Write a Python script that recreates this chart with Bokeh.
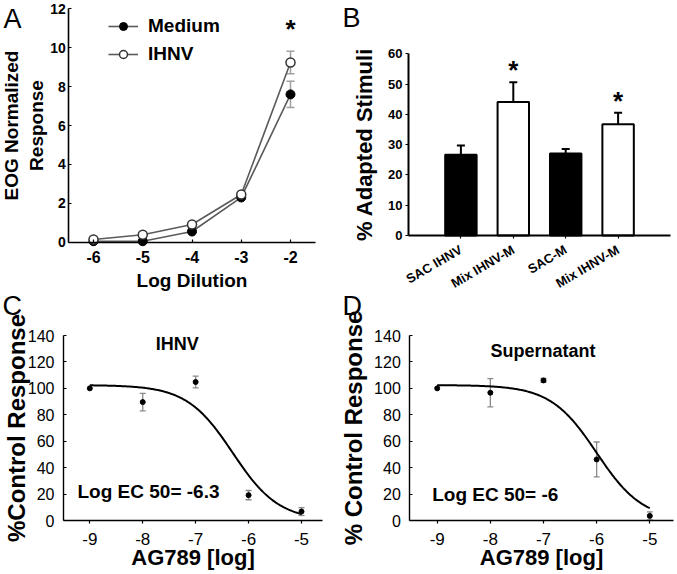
from math import pi
import numpy as np
from bokeh.plotting import figure
from bokeh.layouts import row, column
from bokeh.models import (ColumnDataSource, Whisker, TeeHead, Label, Legend,
                          LegendItem, FixedTicker, Range1d)
from bokeh.core.properties import value
from bokeh.embed import file_html
from bokeh.resources import INLINE

FONT = "Liberation Sans"

# ---------------- data ----------------
# Panel A
log_dilution = [-6, -5, -4, -3, -2]
medium_resp = [0.05, 0.05, 0.55, 2.3, 7.6]
medium_err = [0.0, 0.0, 0.0, 0.0, 0.67]
ihnv_resp = [0.14, 0.38, 0.91, 2.45, 9.24]
ihnv_err = [0.0, 0.0, 0.0, 0.0, 0.58]
a_yticks = [0, 2, 4, 6, 8, 10, 12]

# Panel B
b_labels = ["SAC IHNV", "Mix IHNV-M", "SAC-M", "Mix IHNV-M"]
b_values = [26.7, 44.1, 27.1, 36.7]
b_err = [3.0, 6.5, 1.5, 3.8]
b_fill = ["black", "white", "black", "white"]
b_significant = [False, True, False, True]
b_yticks = [0, 10, 20, 30, 40, 50, 60]

# Panels C and D
ag789_log = [-9, -8, -7, -6, -5]
c_resp = [100.0, 89.6, 104.8, 19.2, 6.8]
c_err = [0.0, 6.6, 4.5, 3.5, 3.0]
d_resp = [100.0, 96.7, 106.0, 46.2, 3.5]
d_err = [0.0, 10.7, 1.5, 13.2, 3.0]
c_top, c_bottom, c_log_ec50, c_hill = 102.5, 0.0, -6.3, 1.0
d_top, d_bottom, d_log_ec50, d_hill = 102.5, 0.0, -6.0, 1.0
cd_yticks = [0, 20, 40, 60, 80, 100, 120, 140]

# ---------------- geometry (page pixels) ----------------
PA = dict(ox=0, oy=0, w=340, h=291, xa=((93.0, -6), (290.0, -2)), ya=((241.7, 0), (8.3, 12)))
PB = dict(ox=340, oy=0, w=337, h=291, xa=((460.4, 1), (617.6, 4)), ya=((235.0, 0), (53.3, 60)))
PC = dict(ox=0, oy=291, w=340, h=283, xa=((89.3, -9), (301.0, -5)), ya=((520.0, 0), (335.0, 140)))
PD = dict(ox=340, oy=291, w=337, h=283, xa=((436.7, -9), (649.3, -5)), ya=((520.0, 0), (335.0, 140)))


def px2x(P, px):
    (pa, va), (pb, vb) = P["xa"]
    return va + (px - pa) * (vb - va) / (pb - pa)


def py2y(P, py):
    (qa, ua), (qb, ub) = P["ya"]
    return ua + (py - qa) * (ub - ua) / (qb - qa)


def make_fig(P, yaxis_px, xaxis_end_px, ybounds):
    x0, x1 = px2x(P, P["ox"]), px2x(P, P["ox"] + P["w"])
    y0, y1 = py2y(P, P["oy"] + P["h"]), py2y(P, P["oy"])
    p = figure(width=P["w"], height=P["h"], x_range=Range1d(x0, x1), y_range=Range1d(y0, y1),
               output_backend="svg", toolbar_location=None, tools="",
               min_border_left=0, min_border_right=0, min_border_top=0, min_border_bottom=0)
    p.outline_line_color = None
    p.xgrid.visible = False
    p.ygrid.visible = False
    p.background_fill_color = "white"
    p.border_fill_color = "white"
    yloc = px2x(P, yaxis_px)
    p.yaxis.fixed_location = yloc
    p.xaxis.fixed_location = 0
    p.xaxis.bounds = (yloc, px2x(P, xaxis_end_px))
    p.yaxis.bounds = ybounds
    for ax in (p.xaxis[0], p.yaxis[0]):
        ax.axis_line_color = "black"
        ax.axis_line_width = 1.6
        ax.major_tick_line_color = "black"
        ax.major_tick_line_width = 1.2
        ax.minor_tick_line_color = None
        ax.major_label_text_font = FONT
        ax.major_label_text_color = "black"
        ax.axis_label_text_font = FONT
        ax.axis_label_text_font_style = "bold"
        ax.axis_label_text_color = "black"
    return p


def slabel(p, P, rx, ry, text, size, style="bold", angle=0, align="center"):
    p.add_layout(Label(x=rx - P["ox"], y=P["oy"] + P["h"] - ry,
                       x_units="screen", y_units="screen", text=text,
                       text_font=FONT, text_font_size=f"{size}px", text_font_style=style,
                       text_color="black", angle=angle, text_align=align,
                       text_baseline="middle"))


def dlabel(p, x, y, text, size, align="center", y_offset=0):
    p.add_layout(Label(x=x, y=y, y_offset=y_offset, text=text, text_font=FONT,
                       text_font_size=f"{size}px", text_font_style="bold",
                       text_color="black", text_align=align, text_baseline="middle"))


def add_whiskers(p, xs, ys, errs, color, width, cap, lower=True):
    pts = [(x, y, e) for x, y, e in zip(xs, ys, errs) if e > 0]
    src = ColumnDataSource(dict(x=[q[0] for q in pts],
                                lo=[q[1] - q[2] if lower else q[1] for q in pts],
                                hi=[q[1] + q[2] for q in pts]))
    w = Whisker(source=src, base="x", lower="lo", upper="hi",
                line_color=color, line_width=width,
                upper_head=TeeHead(size=cap, line_color=color, line_width=width),
                lower_head=TeeHead(size=cap, line_color=color, line_width=width) if lower else None)
    p.add_layout(w)


# ---------------- Panel A ----------------
pA = make_fig(PA, 68.4, 315, (0, 12))
pA.xaxis.ticker = FixedTicker(ticks=log_dilution)
pA.xaxis.major_label_overrides = {t: str(t) for t in log_dilution}
pA.yaxis.ticker = FixedTicker(ticks=a_yticks)
pA.xaxis.major_label_text_font_size = "16px"
pA.xaxis.major_label_text_font_style = "bold"
pA.yaxis.major_label_text_font_size = "14px"
pA.yaxis.major_label_text_font_style = "bold"
for ax in (pA.xaxis[0], pA.yaxis[0]):
    ax.major_tick_in = 3
    ax.major_tick_out = 0
pA.xaxis.major_label_standoff = 9
pA.yaxis.major_label_standoff = 3
pA.xaxis.axis_label = "Log Dilution"
pA.xaxis.axis_label_text_font_size = "19px"
pA.xaxis.axis_label_standoff = 3
pA.yaxis.axis_label = "EOG Normalized\nResponse"
pA.yaxis.axis_label_text_font_size = "19px"
pA.yaxis.axis_label_standoff = 0

add_whiskers(pA, log_dilution, medium_resp, medium_err, "#a0a0a0", 1.5, 8)
add_whiskers(pA, log_dilution, ihnv_resp, ihnv_err, "#a0a0a0", 1.5, 8)
lm = pA.line(log_dilution, medium_resp, line_color="#5a5a5a", line_width=1.6)
li = pA.line(log_dilution, ihnv_resp, line_color="#5a5a5a", line_width=1.6)
sm = pA.scatter(log_dilution, medium_resp, size=9, fill_color="black", line_color="black")
si = pA.scatter(log_dilution, ihnv_resp, size=9, fill_color="white", line_color="#333333",
                line_width=1.5)
legA = Legend(items=[LegendItem(label=value("Medium"), renderers=[lm, sm]),
                     LegendItem(label=value("IHNV"), renderers=[li, si])],
              location=(108 - PA["ox"], PA["oy"] + PA["h"] - 65), margin=0, padding=0,
              spacing=6, glyph_width=30, glyph_height=20, label_height=20,
              label_standoff=10, label_text_font=FONT, label_text_font_style="bold",
              label_text_font_size="19px", label_text_color="black",
              border_line_color=None, background_fill_alpha=0)
pA.add_layout(legA)
dlabel(pA, log_dilution[-1], ihnv_resp[-1] + ihnv_err[-1], "*", 26, y_offset=22)
slabel(pA, PA, 3, 18, "A", 27, style="normal", align="left")

# ---------------- Panel B ----------------
b_x = list(range(1, len(b_values) + 1))
pB = make_fig(PB, 408, 670, (0, 60))
pB.xaxis.ticker = FixedTicker(ticks=b_x)
pB.xaxis.major_label_overrides = {x: lab for x, lab in zip(b_x, b_labels)}
pB.xaxis.major_label_orientation = 0.53
pB.xaxis.major_label_text_font_size = "13px"
pB.xaxis.major_label_text_font_style = "bold"
pB.yaxis.ticker = FixedTicker(ticks=b_yticks)
pB.yaxis.major_label_text_font_size = "13px"
pB.yaxis.major_label_text_font_style = "bold"
for ax in (pB.xaxis[0], pB.yaxis[0]):
    ax.major_tick_in = 0
    ax.major_tick_out = 3
    ax.axis_line_width = 2
pB.xaxis.major_label_standoff = 10
pB.yaxis.major_label_standoff = 3
pB.yaxis.axis_label = "% Adapted Stimuli"
pB.yaxis.axis_label_text_font_size = "22px"
pB.yaxis.axis_label_standoff = 8
add_whiskers(pB, b_x, b_values, b_err, "black", 2, 8, lower=False)
pB.vbar(x=b_x, top=b_values, width=0.6, fill_color=b_fill, line_color="black", line_width=2)
for x, v, e, s in zip(b_x, b_values, b_err, b_significant):
    if s:
        dlabel(pB, x, v + e, "*", 26, y_offset=12)
slabel(pB, PB, 342, 17, "B", 27, style="normal", align="left")


# ---------------- Panels C, D ----------------
def dose_panel(P, yaxis_px, xend_px, resp, err, top, bottom, ec50, hill, ylabel, ylab_standoff):
    p = make_fig(P, yaxis_px, xend_px, (0, 140))
    p.xaxis.ticker = FixedTicker(ticks=ag789_log)
    p.xaxis.major_label_overrides = {t: str(t) for t in ag789_log}
    p.yaxis.ticker = FixedTicker(ticks=cd_yticks)
    p.xaxis.major_label_text_font_size = "17px"
    p.yaxis.major_label_text_font_size = "16px"
    for ax in (p.xaxis[0], p.yaxis[0]):
        ax.axis_line_width = 1.4
    p.xaxis.major_tick_in = 0
    p.xaxis.major_tick_out = 3
    p.yaxis.major_tick_in = 3
    p.yaxis.major_tick_out = 0
    p.xaxis.major_label_standoff = 9
    p.yaxis.major_label_standoff = 9
    p.xaxis.axis_label = "AG789 [log]"
    p.xaxis.axis_label_text_font_size = "22px"
    p.xaxis.axis_label_standoff = -3
    p.yaxis.axis_label = ylabel
    p.yaxis.axis_label_text_font_size = "24px"
    p.yaxis.axis_label_standoff = ylab_standoff
    xs = np.linspace(ag789_log[0], ag789_log[-1], 200)
    ys = bottom + (top - bottom) / (1 + 10 ** ((xs - ec50) * hill))
    p.line(xs, ys, line_color="black", line_width=2)
    add_whiskers(p, ag789_log, resp, err, "#8a8a8a", 1.3, 6)
    p.scatter(ag789_log, resp, size=5, fill_color="black", line_color="black")
    return p


pC = dose_panel(PC, 63, 322, c_resp, c_err, c_top, c_bottom, c_log_ec50, c_hill,
                "%Control Response", -5)
dlabel(pC, px2x(PC, 176.7), py2y(PC, 343.3), "IHNV", 18)
dlabel(pC, px2x(PC, 77), py2y(PC, 491), f"Log EC 50= {c_log_ec50:g}", 19, align="left")
slabel(pC, PC, 2, 305, "C", 27, style="normal", align="left")

pD = dose_panel(PD, 409.3, 673.3, d_resp, d_err, d_top, d_bottom, d_log_ec50, d_hill,
                "% Control Response", 4)
dlabel(pD, px2x(PD, 542.5), py2y(PD, 350), "Supernatant", 18)
dlabel(pD, px2x(PD, 431.7), py2y(PD, 494), f"Log EC 50= {d_log_ec50:g}", 19, align="left")
slabel(pD, PD, 342, 305, "D", 27, style="normal", align="left")

layout = column(row(pA, pB), row(pC, pD))
open("out.html", "w").write(file_html(layout, INLINE))
